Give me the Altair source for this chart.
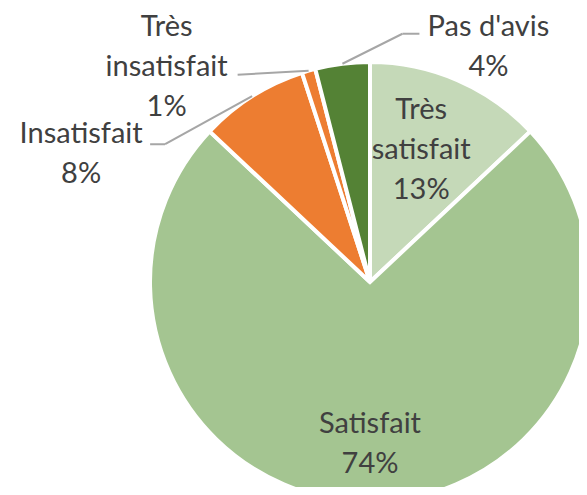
import math
import altair as alt
import pandas as pd

# ---- data ----
categories = ["Très satisfait", "Satisfait", "Insatisfait", "Très insatisfait", "Pas d'avis"]
values = [13, 74, 8, 1, 4]
label_names = ["Très\nsatisfait", "Satisfait", "Insatisfait", "Très\ninsatisfait", "Pas d'avis"]
colors = ["#C5D9B8", "#A4C591", "#ED7D31", "#ED7D31", "#548235"]

df = pd.DataFrame({
    "cat": categories,
    "value": values,
    "idx": list(range(len(categories))),
    "name": label_names,
})
total = sum(values)

# ---- layout / style ----
CX, CY, R = 362, 274, 220
TWO_PI = 2 * math.pi
theta_scale = alt.Scale(domain=[0, total], range=[0, TWO_PI])
FONT = "Lato"
FONT_SIZE = 29
TEXT_COLOR = "#404040"
LEADER_COLOR = "#A6A6A6"

# label radius and offsets per category (first line anchored)
label_style = {
    "Très satisfait": (144, -6, -40),
    "Satisfait": (162, 0, -20),
    "Insatisfait": (220, -171, 38),
    "Très insatisfait": (220, -142, -44),
    "Pas d'avis": (220, 146, -37),
}
# leader line segments relative to slice edge point at mid-angle
leader_style = {
    "Insatisfait": [(0, 0, -87, 48), (-87, 48, -102, 48)],
    "Très insatisfait": [(0, 0, -71, 4)],
    "Pas d'avis": [(0, 0, 60, -30), (60, -30, 77, -30)],
}

base = alt.Chart(df).transform_window(
    end="sum(value)", sort=[alt.SortField("idx")], frame=[None, 0]
).transform_calculate(
    start="datum.end - datum.value",
    mid="datum.end - datum.value / 2",
    label="datum.name + '\\n' + datum.value + '%'",
)

pie = base.mark_arc(radius=R, stroke="white", strokeWidth=4).encode(
    theta=alt.Theta("start:Q", scale=theta_scale),
    theta2="end:Q",
    color=alt.Color("cat:N", scale=alt.Scale(domain=categories, range=colors), legend=None),
    x=alt.value(CX),
    y=alt.value(CY),
)

layers = [pie]

for cat, (r, dx, dy) in label_style.items():
    t = base.transform_filter(alt.datum.cat == cat).mark_text(
        radius=r, dx=dx, dy=dy, font=FONT, fontSize=FONT_SIZE, color=TEXT_COLOR,
        lineBreak="\n", lineHeight=40, align="center", baseline="middle",
    ).encode(
        theta=alt.Theta("mid:Q", scale=theta_scale),
        text="label:N",
        x=alt.value(CX),
        y=alt.value(CY),
    )
    layers.append(t)

for cat, segs in leader_style.items():
    for (a1, b1, a2, b2) in segs:
        ang = f"(datum.mid / {total}) * {TWO_PI}"
        rule = base.transform_filter(alt.datum.cat == cat).transform_calculate(
            ex=f"{CX} + {R} * sin({ang})",
            ey=f"{CY} - {R} * cos({ang})",
        ).transform_calculate(
            x1=f"datum.ex + {a1}", y1=f"datum.ey + {b1}",
            x2=f"datum.ex + {a2}", y2=f"datum.ey + {b2}",
        ).mark_rule(color=LEADER_COLOR, strokeWidth=2).encode(
            x=alt.X("x1:Q", scale=None, axis=None),
            y=alt.Y("y1:Q", scale=None, axis=None),
            x2="x2:Q",
            y2="y2:Q",
        )
        layers.append(rule)

chart = alt.layer(*layers).properties(
    width=571, height=479, autosize="none", padding=0
).configure_view(stroke=None)

chart.save("out.html", embed_options={"renderer": "svg", "actions": False})
